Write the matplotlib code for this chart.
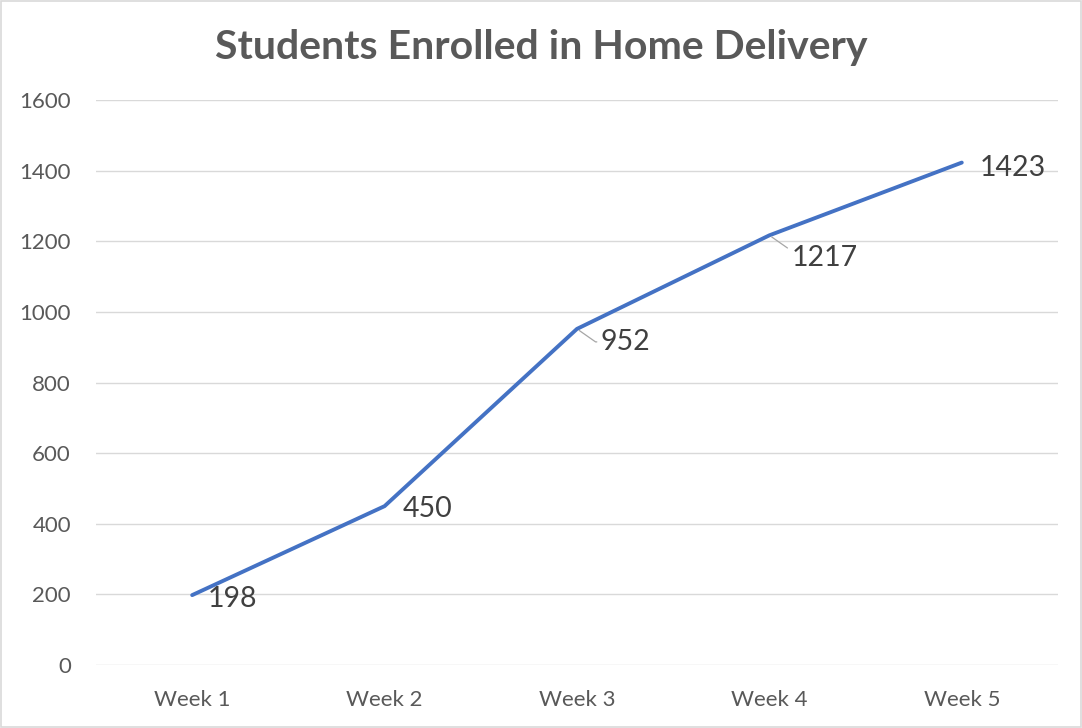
import matplotlib
matplotlib.use("Agg")
import matplotlib.pyplot as plt
from matplotlib.patches import Rectangle

# ---------------------------------------------------------------
# Data
# ---------------------------------------------------------------
weeks = ["Week 1", "Week 2", "Week 3", "Week 4", "Week 5"]
students = [198, 450, 952, 1217, 1423]
y_ticks = [0, 200, 400, 600, 800, 1000, 1200, 1400, 1600]

# label offsets (pixels) and whether a leader line is drawn
label_dx = [16, 18, 24, 22, 18]
label_dy = [-4, -3, -13, -23, -5]
leader = [False, False, True, True, False]

plt.rcParams['font.family'] = ['Lato', 'DejaVu Sans']

fig = plt.figure(figsize=(10.82, 7.28), dpi=100)
ax = fig.add_axes([0.0887, 0.0865, 0.8891, 0.776])

x = list(range(len(weeks)))
ax.plot(x, students, color='#4472C4', linewidth=2.8, solid_capstyle='round',
        solid_joinstyle='round', zorder=3)

for i, v in enumerate(students):
    props = None
    if leader[i]:
        props = dict(arrowstyle='-', color='#a6a6a6', lw=0.9, shrinkA=1, shrinkB=2,
                     relpos=(0, 0.5),
                     connectionstyle='angle,angleA=0,angleB=-35,rad=0')
    ax.annotate(str(v), (i, v), xytext=(label_dx[i], label_dy[i]),
                textcoords='offset pixels', ha='left', va='center',
                fontsize=20.5, color='#404040', arrowprops=props, zorder=4)

ax.set_xlim(-0.5, len(weeks) - 0.5)
ax.set_ylim(0, 1600)
ax.set_xticks(x)
ax.set_xticklabels(weeks)
ax.set_yticks(y_ticks)
ax.tick_params(axis='both', length=0, labelsize=16, colors='#595959')
ax.tick_params(axis='y', pad=18)
ax.tick_params(axis='x', pad=18)
ax.grid(axis='y', color='#d9d9d9', linewidth=1.0)
ax.set_axisbelow(True)
for s in ax.spines.values():
    s.set_visible(False)

fig.text(0.5, 0.935, "Students Enrolled in Home Delivery", ha='center', va='center',
         fontsize=29.5, fontweight='bold', color='#595959')

# light border around the chart area
fig.add_artist(Rectangle((0.001, 0.001), 0.998, 0.998, transform=fig.transFigure,
                         fill=False, edgecolor='#d9d9d9', linewidth=1.2))

fig.savefig("out.png", dpi=100)
